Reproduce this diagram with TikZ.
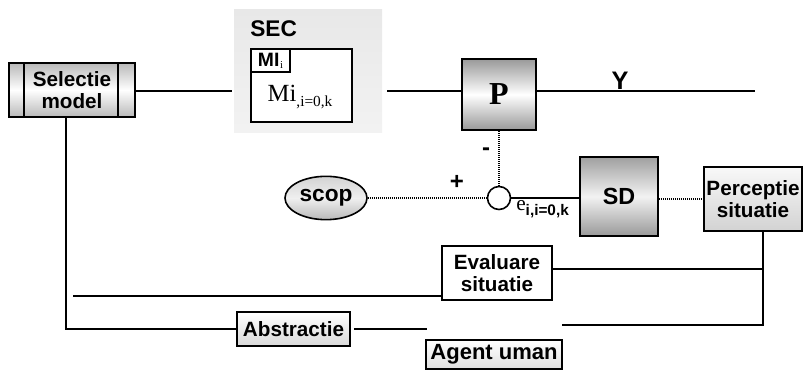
\documentclass[tikz,border=0pt]{standalone}
\usepackage{fontspec}
\setmainfont{Liberation Serif}
\setsansfont{Liberation Sans}
\newfontfamily\arialf{Liberation Sans}
\usetikzlibrary{shapes.geometric}
\begin{document}
\begin{tikzpicture}[x=0.75pt,y=-0.75pt,
  every node/.style={inner sep=0pt},
  lbl/.style={font=\arialf\bfseries\fontsize{15.5}{17}\selectfont, align=center},
  bx/.style={draw=black, line width=1.2pt, lbl},
  conn/.style={line width=1.2pt},
  dotc/.style={line width=1.1pt, dash pattern=on 1pt off 0.5pt},
  mixshade/.style={top color=gray!55, bottom color=gray!55, middle color=white}]
\useasboundingbox (0,0) rectangle (804,370);
% Selectie model
\node[bx, mixshade, minimum width=94.5pt, minimum height=40.5pt] (sel) at (72,90) {Selectie\\model};
\draw[line width=1.2pt] (24,63) -- (24,117) (118,63) -- (118,117);
% SEC
\node[top color=gray!18, bottom color=gray!10, minimum width=111pt, minimum height=92.25pt] (sec) at (308,71.5) {};
\node[anchor=base west, font=\arialf\bfseries\fontsize{17}{18}\selectfont] (sect) at (250,37) {SEC};
\node[draw, line width=1.2pt, fill=white, minimum width=75.75pt, minimum height=54.75pt] (mbox) at (301.5,85.5) {};
\node[draw, line width=1.2pt, fill=white, anchor=north west, minimum width=29.25pt, minimum height=17.25pt] (mi) at (mbox.north west) {};
\node (mit) at (mi.center) {\arialf\bfseries\fontsize{14.5}{15}\selectfont MI\kern0.5pt\raisebox{-1.5pt}{\rmfamily\mdseries\fontsize{8}{8}\selectfont i}};
\node (mtxt) at (300,97) {\fontsize{18.5}{19}\selectfont Mi\raisebox{-3.5pt}{\fontsize{11.5}{11}\selectfont ,i=0,k}};
% P
\node[bx, top color=gray!80, bottom color=gray!80, middle color=white, minimum width=55.5pt, minimum height=53.25pt, font=\rmfamily\bfseries\fontsize{24}{25}\selectfont] (P) at (499,94.5) {P};
\coordinate (yl) at (0,91);
\coordinate (yend) at (755,91);
\draw[conn] (sel.east |- yl) -- ([xshift=-1.5pt]sec.west |- yl);
\draw[conn] ([xshift=3.75pt]sec.east |- yl) -- (P.west |- yl);
\draw[conn] (P.east |- yl) -- (yend);
\node[lbl, anchor=base, font=\arialf\bfseries\fontsize{19}{20}\selectfont] (Y) at (620,90) {Y};
% summing junction
\node[circle, draw, line width=1.2pt, fill=white, minimum size=17.25pt] (sum) at (499,198) {};
\node[ellipse, draw, line width=1.2pt, top color=gray!35, bottom color=gray!55, middle color=gray!12, minimum width=61.5pt, minimum height=32.5pt, font=\arialf\bfseries\fontsize{17}{17}\selectfont] (scop) at (326,198) {scop};
\draw[dotc] (P.south) -- (sum.north);
\draw[dotc] (scop.east) -- (sum.west);
\node[lbl, font=\arialf\bfseries\fontsize{18}{18}\selectfont] (minus) at (486,152) {-};
\node[lbl, font=\arialf\bfseries\fontsize{18}{18}\selectfont] (plus) at (457,182) {+};
% SD
\node[bx, top color=gray!75, bottom color=gray!80, middle color=gray!10, minimum width=58.5pt, minimum height=59.25pt, font=\arialf\bfseries\fontsize{17.5}{18}\selectfont] (SD) at (619,196.5) {SD};
\draw[dotc] (sum.east) -- (SD.west |- sum.east);
\node[anchor=base west] (elbl) at (516,211) {\fontsize{16}{16}\selectfont e\raisebox{-3.5pt}{\arialf\bfseries\fontsize{11.5}{12}\selectfont i,i=0,k}};
% Perceptie
\node[bx, top color=gray!5, bottom color=gray!35, minimum width=73.5pt, minimum height=48pt] (perc) at (753,199) {Perceptie\\situatie};
\draw[dotc] (SD.east |- perc.west) -- (perc.west);
% Evaluare
\node[bx, fill=white, minimum width=82.5pt, minimum height=40.5pt] (eval) at (497,273) {Evaluare\\situatie};
\coordinate (pb) at (763,231);
\coordinate (pc) at (763,325);
\coordinate (pe) at (763,269);
\coordinate (lft) at (73,296);
\coordinate (gapr) at (562,325);
\coordinate (gapl) at (427,329);
\draw[conn] (pb) -- (pc) -- (gapr);
\draw[conn] (eval.east |- pe) -- (pe);
\draw[conn] (lft) -- (eval.west |- lft);
% Abstractie
\node[bx, top color=white, bottom color=gray!30, minimum width=84.75pt, minimum height=25.5pt] (abs) at (293.5,329) {Abstractie};
\draw[conn] ([xshift=2.25pt]abs.east) -- (gapl);
\draw[conn] (abs.west) -| (sel.south -| 66,0);
% Agent uman
\node[bx, top color=white, bottom color=gray!25, minimum width=102pt, minimum height=21.75pt, font=\arialf\bfseries\fontsize{16.5}{17}\selectfont] (agent) at (494,354.5) {Agent uman};
\end{tikzpicture}
\end{document}
